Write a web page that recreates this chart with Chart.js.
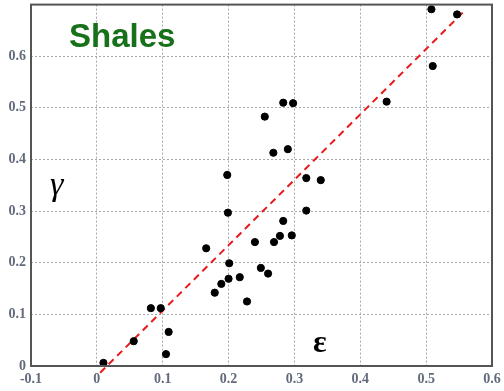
<!DOCTYPE html>
<html>
<head>
<meta charset="utf-8">
<style>
  html, body { margin: 0; padding: 0; background: #fff; }
  #wrap { width: 504px; height: 391px; position: relative; }
</style>
<script src="https://cdn.jsdelivr.net/npm/chart.js@4/dist/chart.umd.min.js"></script>
</head>
<body>
<div id="wrap"><canvas id="c" width="504" height="391"></canvas></div>
<script>
// Strain components for the shale samples
const epsilon = [0.010, 0.056, 0.105, 0.109, 0.082, 0.097, 0.228, 0.179, 0.189, 0.200, 0.217,
                 0.260, 0.249, 0.201, 0.166, 0.240, 0.269, 0.278, 0.296, 0.283, 0.318, 0.199,
                 0.340, 0.318, 0.198, 0.290, 0.268, 0.255, 0.283, 0.298, 0.440, 0.510, 0.508, 0.547];
const gamma   = [0.006, 0.048, 0.023, 0.066, 0.112, 0.112, 0.125, 0.142, 0.159, 0.169, 0.172,
                 0.179, 0.190, 0.199, 0.228, 0.240, 0.240, 0.252, 0.253, 0.281, 0.301, 0.297,
                 0.360, 0.364, 0.370, 0.420, 0.413, 0.483, 0.510, 0.509, 0.512, 0.581, 0.691, 0.681];

// Trend line end points
const trendX = [0.005, 0.560];
const trendY = [-0.013, 0.690];

const xTicks = [-0.1, 0, 0.1, 0.2, 0.3, 0.4, 0.5, 0.6];
const yTicks = [0, 0.1, 0.2, 0.3, 0.4, 0.5, 0.6];

const tickColor = '#626b7c';
const tickFont = { family: '"Liberation Serif", serif', size: 14, weight: 'bold' };

const fmt = v => {
  const r = Math.round(v * 10) / 10;
  return r === 0 ? '0' : String(r);
};

const frameAndLabels = {
  id: 'frameAndLabels',
  afterDraw(chart) {
    const { ctx, chartArea: a } = chart;
    ctx.save();
    ctx.strokeStyle = '#555';
    ctx.lineWidth = 2;
    ctx.strokeRect(a.left, a.top, a.right - a.left, a.bottom - a.top);

    ctx.fillStyle = '#17701a';
    ctx.font = 'bold 33px "Liberation Sans", Arial, sans-serif';
    ctx.textBaseline = 'alphabetic';
    ctx.fillText('Shales', 69, 47);

    ctx.fillStyle = '#000';
    ctx.font = 'italic 34px "Liberation Serif", serif';
    ctx.fillText('γ', 50, 195);
    ctx.font = 'bold 32px "Liberation Serif", serif';
    ctx.fillText('ε', 313, 352);
    ctx.restore();
  }
};

new Chart(document.getElementById('c'), {
  type: 'scatter',
  data: {
    datasets: [
      {
        data: epsilon.map((x, i) => ({ x, y: gamma[i] })),
        backgroundColor: '#000',
        borderColor: '#000',
        pointRadius: 3.6,
        pointHoverRadius: 3.6,
        order: 1
      },
      {
        type: 'line',
        data: trendX.map((x, i) => ({ x, y: trendY[i] })),
        borderColor: '#e8191c',
        borderWidth: 2,
        borderDash: [7, 5],
        pointRadius: 0,
        fill: false,
        clip: false,
        order: 2
      }
    ]
  },
  options: {
    responsive: false,
    animation: false,
    events: [],
    layout: { padding: { top: 1, right: 12, left: 0, bottom: 0 } },
    plugins: { legend: { display: false }, tooltip: { enabled: false } },
    scales: {
      x: {
        type: 'linear',
        min: -0.1,
        max: 0.6,
        afterBuildTicks: s => { s.ticks = xTicks.map(v => ({ value: v })); },
        afterFit: s => { s.height = 25; s.paddingLeft = 0; s.paddingRight = 0; },
        grid: { color: '#a8a8a8', lineWidth: 1, tickLength: 0 },
        border: { display: false, dash: [2, 2] },
        ticks: { color: tickColor, font: tickFont, padding: 5, maxRotation: 0, callback: fmt }
      },
      y: {
        type: 'linear',
        min: 0,
        max: 0.7,
        afterBuildTicks: s => { s.ticks = yTicks.concat([0.7]).map(v => ({ value: v })); },
        afterFit: s => { s.width = 31; s.paddingTop = 0; s.paddingBottom = 0; },
        grid: { color: '#a8a8a8', lineWidth: 1, tickLength: 0 },
        border: { display: false, dash: [2, 2] },
        ticks: { color: tickColor, font: tickFont, padding: 5,
                 callback: v => (Math.abs(v - 0.7) < 1e-6 ? '' : fmt(v)) }
      }
    }
  },
  plugins: [frameAndLabels]
});
</script>
</body>
</html>
